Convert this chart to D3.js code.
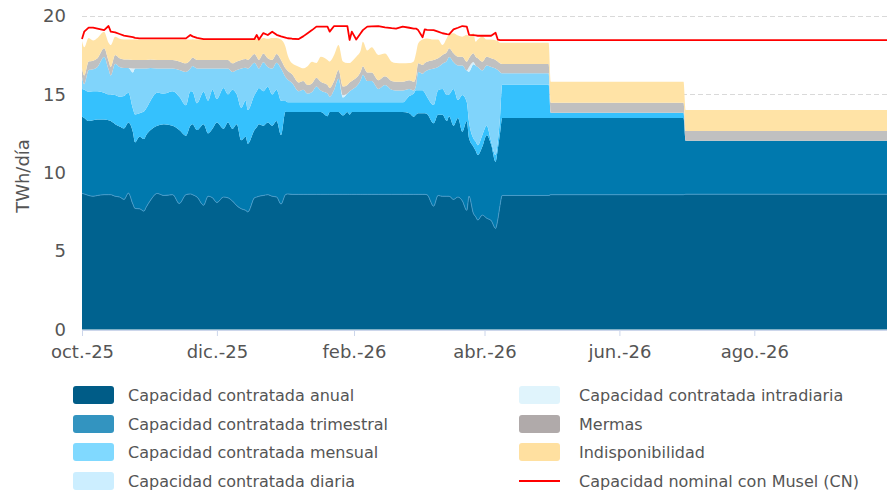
<!DOCTYPE html>
<html><head><meta charset="utf-8">
<script src="https://cdn.jsdelivr.net/npm/d3@7"></script>
<style>
body{margin:0;background:#fff}
svg{display:block;font-family:"DejaVu Sans",Verdana,sans-serif}
</style></head>
<body><svg id="c" width="887" height="490"></svg>
<script>
// ---- data (TWh/día) ----
const dates = [
 // oct 2025
 "2025-10-01","2025-10-02","2025-10-04","2025-10-06","2025-10-08","2025-10-11","2025-10-13","2025-10-14","2025-10-16","2025-10-18","2025-10-20","2025-10-22","2025-10-24","2025-10-25","2025-10-27","2025-10-29","2025-10-30",
 // nov
 "2025-11-01","2025-11-04","2025-11-07","2025-11-11","2025-11-14","2025-11-17","2025-11-19","2025-11-20","2025-11-22","2025-11-25","2025-11-27","2025-11-29",
 // dic
 "2025-12-01","2025-12-04","2025-12-06","2025-12-08","2025-12-10","2025-12-12","2025-12-14","2025-12-15","2025-12-18","2025-12-19","2025-12-20","2025-12-22","2025-12-24","2025-12-26","2025-12-28","2025-12-30",
 // ene 2026
 "2026-01-01","2026-01-02","2026-01-04","2026-01-07","2026-01-09","2026-01-11","2026-01-13","2026-01-15","2026-01-17","2026-01-20","2026-01-21","2026-01-23","2026-01-25","2026-01-27","2026-01-29","2026-01-30","2026-01-31",
 // feb
 "2026-02-02","2026-02-04","2026-02-05","2026-02-07","2026-02-09","2026-02-12","2026-02-15","2026-02-18","2026-02-20","2026-02-23","2026-02-26","2026-02-28",
 // mar
 "2026-03-01","2026-03-02","2026-03-04","2026-03-05","2026-03-06","2026-03-09","2026-03-11","2026-03-13","2026-03-15","2026-03-16","2026-03-18","2026-03-20","2026-03-22","2026-03-24","2026-03-25","2026-03-27","2026-03-28","2026-03-29","2026-03-31",
 // abr
 "2026-04-02","2026-04-04","2026-04-06","2026-04-07","2026-04-08","2026-04-09","2026-04-30",
 // may - sep
 "2026-05-01","2026-06-30","2026-07-01","2026-09-30"
];

const anual = [
 8.68,8.65,8.55,8.50,8.55,8.60,8.60,8.60,8.50,8.45,8.30,8.70,8.00,7.72,7.70,7.55,7.80,
 8.25,8.68,8.55,8.60,8.04,8.60,8.65,8.60,8.45,7.93,8.50,8.40,
 8.10,8.45,8.40,8.20,7.90,7.70,7.60,7.50,8.40,8.45,8.50,8.55,8.60,8.50,8.45,8.00,
 8.60,8.65,8.62,8.62,8.62,8.62,8.62,8.62,8.62,8.62,8.62,8.62,8.62,8.62,8.62,8.62,8.62,
 8.62,8.62,8.62,8.62,8.62,8.62,8.62,8.62,8.62,8.62,8.62,8.62,
 8.62,8.62,8.62,8.62,8.60,7.87,8.55,8.50,8.50,8.50,8.30,8.45,8.20,7.60,8.50,7.40,7.20,6.98,7.30,
 7.10,6.95,6.45,7.00,7.90,8.55,8.55,
 8.60,8.60,8.63,8.63
];
const trimestral = [
 4.89,4.85,4.75,4.85,4.85,4.80,4.75,4.70,4.60,4.50,4.53,4.50,4.60,4.22,4.60,4.60,4.60,
 4.47,4.32,4.55,4.40,4.68,3.76,4.35,4.50,4.27,5.17,4.01,4.40,
 5.10,4.35,4.80,4.60,5.20,4.38,4.70,4.35,4.32,4.45,4.60,4.45,4.60,4.50,4.85,4.40,
 5.29,5.22,5.25,5.25,5.25,5.25,5.25,5.25,5.25,4.98,5.25,5.25,5.25,5.03,5.25,5.08,5.25,
 5.25,5.25,5.25,5.25,5.25,5.25,5.25,5.25,5.25,5.25,5.18,4.95,
 5.08,5.18,5.18,5.18,5.15,5.28,5.15,5.20,4.80,5.10,4.70,5.05,4.42,5.70,3.70,4.26,4.20,4.15,4.36,
 5.30,4.85,4.25,4.50,4.60,4.95,4.95,
 4.90,4.90,3.41,3.41
];
const mensual = [
 1.77,1.80,1.87,1.85,1.80,1.70,1.65,1.70,1.86,1.90,2.07,1.90,1.50,1.78,1.50,1.75,1.70,
 1.88,2.10,1.95,2.20,2.13,1.94,2.20,2.07,1.71,2.07,2.09,2.50,
 1.50,2.60,1.80,2.50,1.90,2.07,2.30,2.15,2.24,2.30,2.30,2.20,2.29,2.00,2.00,2.20,
 0.68,0.63,0.63,0.63,0.63,0.63,0.63,0.63,0.63,0.90,0.63,0.63,0.63,0.85,0.63,0.80,0.63,
 0.63,0.63,0.63,0.63,0.63,0.63,0.63,0.63,0.63,0.62,1.10,1.49,
 1.57,1.47,1.47,1.30,1.10,1.17,1.57,1.65,1.66,1.40,2.35,1.14,2.34,1.20,1.05,0.53,0.60,0.63,0.74,
 0.60,0.20,0.43,0.50,1.00,2.13,2.13,
 0.32,0.32,0,0
];
const diaria = [
 0.77,0.35,1.38,1.40,1.55,2.29,1.60,1.21,2.00,1.90,1.78,1.58,2.30,2.93,2.85,2.75,2.55,
 2.08,1.55,1.60,1.45,1.70,2.13,1.45,1.64,2.22,1.48,2.05,1.35,
 1.95,1.25,1.65,1.13,1.55,2.50,2.10,2.65,2.06,1.65,1.25,1.85,1.26,1.65,1.72,2.05,
 1.54,1.45,1.23,0.70,0.80,0.55,0.65,1.01,0.75,0.55,0.35,0.80,1.50,0.30,0.55,0.70,0.80,
 1.01,1.40,1.75,1.35,1.35,0.85,1.10,0.80,0.75,0.76,0.45,0.19,
 0.28,1.16,1.05,1.35,1.68,2.33,1.48,1.61,2.19,2.39,1.72,2.21,1.89,2.03,3.20,4.73,4.85,4.99,4.13,
 3.85,4.75,5.52,4.55,2.93,0.71,0.71,
 0,0,0,0
];
const intradiaria = [
 0,0,0,0,0,0,0,0,0,0,0,0,0.25,0,0,0,0,
 0,0,0,0,0,0,0,0,0,0,0,0,
 0,0,0,0,0,0,0,0,0,0,0,0,0,0,0,0,
 0,0,0,0,0,0,0,0,0,0,0,0,0,0.15,0,0,0,
 0,0,0,0,0,0,0,0,0,0,0,0,
 0,0,0,0,0,0,0,0,0,0,0,0,0,0,0.30,0.15,0,0,0,
 0,0,0,0,0,0,0,
 0,0,0,0
];
const mermas = [
 0.55,0.55,0.55,0.55,0.55,0.55,0.55,0.55,0.55,0.55,0.55,0.55,0.55,0.55,0.55,0.55,0.55,
 0.55,0.55,0.55,0.55,0.55,0.55,0.55,0.55,0.55,0.55,0.55,0.55,
 0.55,0.55,0.55,0.55,0.55,0.55,0.55,0.55,0.55,0.55,0.55,0.55,0.55,0.55,0.55,0.55,
 0.55,0.55,0.55,0.55,0.55,0.55,0.55,0.55,0.55,0.55,0.55,0.55,0.55,0.55,0.55,0.55,0.55,
 0.55,0.55,0.55,0.55,0.55,0.55,0.55,0.55,0.55,0.55,0.55,0.55,
 0.55,0.55,0.55,0.55,0.55,0.55,0.55,0.55,0.55,0.55,0.55,0.55,0.55,0.55,0.55,0.55,0.55,0.55,0.55,
 0.55,0.55,0.55,0.55,0.55,0.59,0.59,
 0.64,0.64,0.62,0.62
];
const indisponibilidad = [
 1.74,1.80,1.50,1.29,1.30,1.06,1.15,1.39,1.17,1.25,1.27,1.27,1.30,1.30,1.30,1.30,1.30,
 1.27,1.30,1.30,1.30,1.40,1.52,1.30,1.16,1.30,1.30,1.30,1.30,
 1.30,1.30,1.30,1.52,1.40,1.30,1.25,1.30,0.98,1.15,1.30,1.00,1.25,1.40,1.03,1.30,
 1.38,1.00,0.70,1.02,0.81,1.20,1.38,0.94,1.60,1.60,1.70,1.66,1.60,1.60,1.40,1.25,1.25,
 1.34,1.35,1.56,1.40,1.60,1.61,1.45,1.23,1.20,1.18,1.10,1.30,
 1.50,1.27,1.63,1.55,1.49,1.30,1.20,0.64,0.90,0.89,1.28,1.35,1.28,1.72,1.40,1.28,0.96,1.20,1.62,
 1.10,1.20,1.26,1.30,1.31,1.36,1.36,
 1.34,1.34,1.34,1.34
];
const nominal = [
 18.53,19.00,19.26,19.26,19.20,19.10,19.36,19.00,18.95,18.85,18.75,18.70,18.65,18.60,18.57,18.57,18.57,
 18.57,18.57,18.57,18.57,18.57,18.57,18.79,18.70,18.60,18.53,18.53,18.53,
 18.53,18.53,18.53,18.53,18.53,18.53,18.53,18.53,18.53,18.79,18.50,18.91,18.79,19.00,18.80,18.70,
 18.62,18.58,18.55,18.53,18.70,18.90,19.10,19.32,19.32,19.32,19.00,19.36,19.36,19.36,19.36,18.47,19.00,
 18.50,18.90,19.10,19.32,19.34,19.36,19.28,19.22,19.20,19.32,19.25,19.20,
 19.20,19.10,18.64,19.15,19.12,19.10,19.00,18.90,18.85,18.83,19.15,19.25,19.36,19.32,18.80,18.78,18.76,18.74,18.74,
 18.74,18.74,18.93,18.50,18.46,18.46,18.46,
 18.46,18.46,18.46,18.46
];

const seriesNames = ["Capacidad contratada anual","Capacidad contratada trimestral","Capacidad contratada mensual","Capacidad contratada diaria","Capacidad contratada intradiaria","Mermas","Indisponibilidad"];
const lineName = "Capacidad nominal con Musel (CN)";
const xTickDates = ["2025-10-01","2025-12-01","2026-02-01","2026-04-01","2026-06-01","2026-08-01"];
const xTickLabels = ["oct.-25","dic.-25","feb.-26","abr.-26","jun.-26","ago.-26"];
const yTicks = [0,5,10,15,20];
const yTitle = "TWh/día";

// ---- styles ----
const keys = ["anual","trimestral","mensual","diaria","intradiaria","mermas","indisponibilidad"];
const fillColors = ["#00628f","#0079ae","#35c1fd","#80d4fb","#d6f0fc","#c0c0c0","#ffe3a6"];
const legendColors = ["#005c87","#3394c0","#80d9ff","#cceeff","#e0f4fc","#b0aaaa","#ffe0a0"];
const FONT = '"DejaVu Sans",Verdana,sans-serif';

const parse = d3.timeParse("%Y-%m-%d");
const src = {anual,trimestral,mensual,diaria,intradiaria,mermas,indisponibilidad};
const rows = dates.map((d,i)=>{
  const r = {date: parse(d), nominal: nominal[i]};
  keys.forEach(k=> r[k] = src[k][i]);
  return r;
});

const svg = d3.select("#c");
const x = d3.scaleTime().domain([parse("2025-10-01"), parse("2026-09-30")]).range([82, 887]);
const y = d3.scaleLinear().domain([0,20]).range([329.5, 16]);

// grid
svg.append("g").selectAll("line").data(yTicks.filter(v=>v>0)).join("line")
  .attr("x1",82).attr("x2",887)
  .attr("y1",d=>Math.round(y(d))+0.5).attr("y2",d=>Math.round(y(d))+0.5)
  .attr("stroke","#d9d9d9").attr("stroke-width",1).attr("stroke-dasharray","5,3");

// stacked areas
const stacked = d3.stack().keys(keys)(rows);
const area = d3.area().x(d=>x(d.data.date)).y0(d=>y(d[0])).y1(d=>y(d[1])).curve(d3.curveMonotoneX);
svg.append("g").selectAll("path").data(stacked).join("path")
  .attr("d",area).attr("fill",(d,i)=>fillColors[i]);

// thin light line on top of the annual layer
svg.append("path").datum(stacked[0])
  .attr("d", d3.line().x(d=>x(d.data.date)).y(d=>y(d[1])).curve(d3.curveMonotoneX))
  .attr("fill","none").attr("stroke","#4a9ccb").attr("stroke-width",1).attr("opacity",0.85);

// nominal capacity line
svg.append("path").datum(rows)
  .attr("d", d3.line().x(d=>x(d.date)).y(d=>y(d.nominal)))
  .attr("fill","none").attr("stroke","#ff0000").attr("stroke-width",1.8).attr("stroke-linejoin","round");

// x axis
const xAxis = d3.axisBottom(x).tickValues(xTickDates.map(parse))
  .tickFormat((d,i)=>xTickLabels[i]).tickSize(6).tickPadding(9);
const gx = svg.append("g").attr("transform","translate(0,330)").call(xAxis);
gx.select(".domain").attr("stroke","#ccd6eb").attr("d","M82,0.5H887");
gx.selectAll(".tick line").attr("stroke","#ccd6eb");
gx.selectAll("text").attr("fill","#555").attr("font-size",18).style("font-family",FONT);

// y axis
const yAxis = d3.axisLeft(y).tickValues(yTicks).tickSize(0).tickPadding(0);
const gy = svg.append("g").attr("transform","translate(66,0)").call(yAxis);
gy.select(".domain").remove();
gy.selectAll("text").attr("fill","#555").attr("font-size",18).style("font-family",FONT);

svg.append("text").attr("transform","translate(23,176) rotate(-90)")
  .attr("text-anchor","middle").attr("dy","0.35em").attr("fill","#555").attr("font-size",18).text(yTitle);

// legend
const legendItems = seriesNames.map((n,i)=>({name:n, color:legendColors[i], type:"rect"}))
  .concat([{name:lineName, color:"#ff0000", type:"line"}]);
const leftCol = [0,1,2,3], rightCol = [4,5,6,7];
const rowY = [395,424,452,481];
const lg = svg.append("g");
function legendAt(idx, col, r){
  const it = legendItems[idx];
  const sx = col===0 ? 73 : 519, tx = col===0 ? 128 : 579;
  const g = lg.append("g");
  if(it.type==="rect"){
    g.append("rect").attr("x",sx).attr("y",rowY[r]-9).attr("width",41).attr("height",18).attr("rx",3).attr("fill",it.color);
  } else {
    g.append("line").attr("x1",sx).attr("x2",sx+41).attr("y1",rowY[r]).attr("y2",rowY[r]).attr("stroke",it.color).attr("stroke-width",2);
  }
  g.append("text").attr("x",tx).attr("y",rowY[r]).attr("dy","0.35em").attr("fill","#555").attr("font-size",16).text(it.name);
}
leftCol.forEach((idx,r)=>legendAt(idx,0,r));
rightCol.forEach((idx,r)=>legendAt(idx,1,r));
</script></body></html>
